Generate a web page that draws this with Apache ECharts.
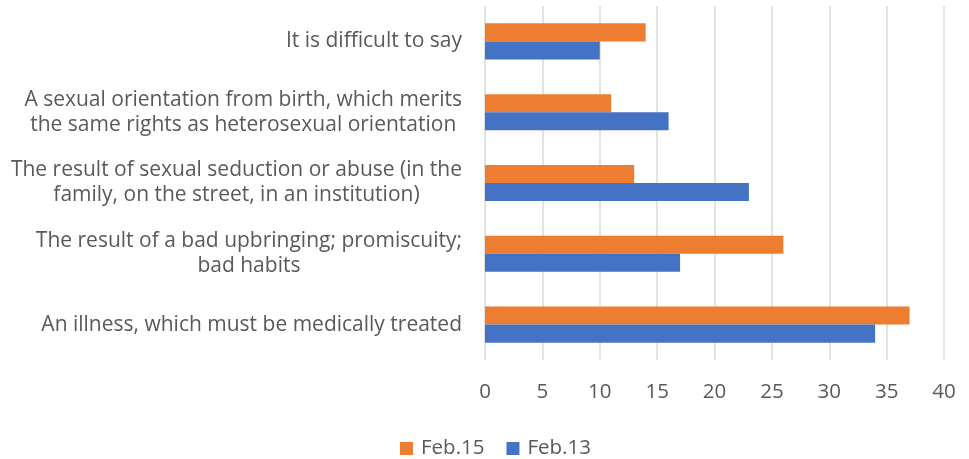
<!DOCTYPE html>
<html>
<head>
<meta charset="utf-8">
<script src="https://cdn.jsdelivr.net/npm/echarts@6/dist/echarts.min.js"></script>
<style>
  html, body { margin: 0; padding: 0; background: #fff; }
  #chart { width: 969px; height: 459px; }
</style>
</head>
<body>
<div id="chart"></div>
<script>
// categories, bottom to top
const categories = [
  "An illness, which must be medically treated",
  "The result of a bad upbringing; promiscuity;\nbad habits",
  "The result of sexual seduction or abuse (in the\nfamily, on the street, in an institution)",
  "A sexual orientation from birth, which merits\nthe same rights as heterosexual orientation",
  "It is difficult to say"
];
const feb15 = [37, 26, 13, 11, 14];
const feb13 = [34, 17, 23, 16, 10];

const font = "Open Sans";
const chart = echarts.init(document.getElementById("chart"));

chart.setOption({
  animation: false,
  textStyle: { fontFamily: font },
  legend: {
    data: ["Feb.15", "Feb.13"],
    top: 433,
    left: 395,
    icon: "rect",
    itemWidth: 13,
    itemHeight: 13,
    itemGap: 22,
    textStyle: { color: "#595959", fontSize: 20.5, fontFamily: font, padding: [0, 0, 0, 3] }
  },
  grid: { left: 485, right: 25, top: 6, bottom: 99 },
  xAxis: {
    type: "value",
    min: 0,
    max: 40,
    interval: 5,
    axisLine: { show: false },
    axisTick: { show: false },
    splitLine: { lineStyle: { color: "#d9d9d9", width: 1.5 } },
    axisLabel: { color: "#595959", fontSize: 20.5, margin: 22, fontFamily: font }
  },
  yAxis: {
    type: "category",
    data: categories,
    axisLine: { show: false },
    axisTick: { show: false },
    axisLabel: {
      margin: 23,
      formatter: function (v) {
        return v.split("\n").map(s => "{a|" + s + "}").join("\n");
      },
      rich: {
        a: { color: "#595959", fontSize: 21, lineHeight: 25, align: "center", fontFamily: font }
      }
    }
  },
  series: [
    {
      name: "Feb.15",
      type: "bar",
      data: feb15,
      itemStyle: { color: "#ED7D31" },
      barGap: "0%",
      barCategoryGap: "49%"
    },
    {
      name: "Feb.13",
      type: "bar",
      data: feb13,
      itemStyle: { color: "#4472C4" },
      barGap: "0%",
      barCategoryGap: "49%"
    }
  ]
});
</script>
</body>
</html>
